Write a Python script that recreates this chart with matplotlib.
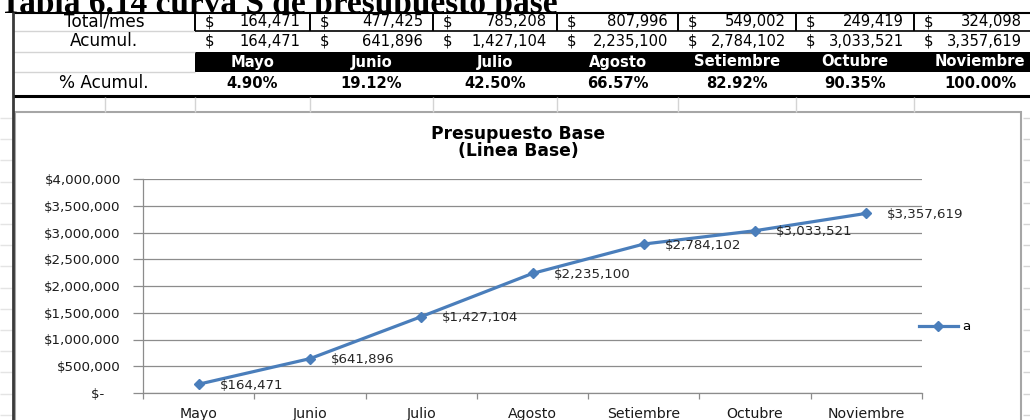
import numpy as np
import matplotlib
matplotlib.use("Agg")
import matplotlib.pyplot as plt
from matplotlib.lines import Line2D
from matplotlib.patches import Rectangle
from matplotlib.ticker import FuncFormatter, FixedLocator

# datos de la tabla 6.14
meses = ['Mayo', 'Junio', 'Julio', 'Agosto', 'Setiembre', 'Octubre', 'Noviembre']
total_mes = [164471, 477425, 785208, 807996, 549002, 249419, 324098]
acumulado = [164471, 641896, 1427104, 2235100, 2784102, 3033521, 3357619]
pct_acumulado = [4.90, 19.12, 42.50, 66.57, 82.92, 90.35, 100.00]
serie = 'a'

W, H = 1030, 420
fig = plt.figure(figsize=(W / 100, H / 100), dpi=100)
fig.patch.set_facecolor('white')


def fx(x):
    return x / W


def fy(y):
    return 1 - y / H


def hline(y, x0, x1, color='black', lw=1.0, z=2):
    fig.add_artist(Line2D([fx(x0), fx(x1)], [fy(y), fy(y)], transform=fig.transFigure,
                          color=color, lw=lw, zorder=z, solid_capstyle='butt'))


def vline(x, y0, y1, color='black', lw=1.0, z=2):
    fig.add_artist(Line2D([fx(x), fx(x)], [fy(y0), fy(y1)], transform=fig.transFigure,
                          color=color, lw=lw, zorder=z, solid_capstyle='butt'))


LIGHT = '#d4d4d4'

# ---- titulo de la tabla (la tabla tapa los descendentes) ----
fig.text(fx(0), fy(13), 'Tabla 6.14 curva S de presupuesto base', family='Liberation Serif',
         weight='bold', fontsize=24, ha='left', va='baseline', zorder=0.3)

# ---- tabla ----
col_edges = [195, 310, 433, 557, 678, 796, 914, 1040]
label_cx = 104

fig.add_artist(Rectangle((fx(13), fy(96)), fx(1040) - fx(13), fy(13) - fy(96),
                         transform=fig.transFigure, facecolor='white', edgecolor='none', zorder=0.5))
# fondo negro de la fila de meses
fig.add_artist(Rectangle((fx(195), fy(72)), fx(1040) - fx(195), fy(52) - fy(72),
                         transform=fig.transFigure, facecolor='black', edgecolor='none', zorder=1))

hline(13, 13, 1030, lw=1.5)
hline(31, 13, 195, color=LIGHT)
hline(31, 195, 1030, lw=1.2)
hline(52, 13, 195, color=LIGHT)
hline(72, 13, 195, color=LIGHT)
hline(95.5, 13, 1030, lw=2.2)
for x in col_edges[:-1]:
    vline(x, 13, 31, lw=1.4)
vline(13, 12, 420, color='#3a3a3a', lw=2.0, z=3)

# cuadricula de la hoja bajo la tabla
for x in [105] + col_edges[:-1]:
    vline(x, 97, 112, color=LIGHT)
for k in range(15):
    y = 118 + 21.2 * k
    hline(y, 1023, 1030, color=LIGHT)
    hline(y, 0, 12, color='#e4e4e4')

fs_val = 10.6
fig.text(fx(label_cx), fy(22), 'Total/mes', family='DejaVu Sans', fontsize=12.2, ha='center', va='center')
fig.text(fx(label_cx), fy(41.5), 'Acumul.', family='DejaVu Sans', fontsize=12.2, ha='center', va='center')
fig.text(fx(label_cx), fy(83), '% Acumul.', family='DejaVu Sans', fontsize=12.2, ha='center', va='center')

for i in range(len(meses)):
    left, right = col_edges[i], min(col_edges[i + 1], 1032)
    cx = (col_edges[i] + col_edges[i + 1]) / 2 if i < 6 else 980
    fig.text(fx(left + 10), fy(22), '$', family='DejaVu Sans', fontsize=fs_val, ha='left', va='center')
    fig.text(fx(right - 10), fy(22), f'{total_mes[i]:,}', family='DejaVu Sans', fontsize=fs_val,
             ha='right', va='center')
    fig.text(fx(left + 10), fy(41.5), '$', family='DejaVu Sans', fontsize=fs_val, ha='left', va='center')
    fig.text(fx(right - 10), fy(41.5), f'{acumulado[i]:,}', family='DejaVu Sans', fontsize=fs_val,
             ha='right', va='center')
    fig.text(fx(cx), fy(62), meses[i], family='DejaVu Sans', weight='bold', fontsize=fs_val,
             color='white', ha='center', va='center')
    fig.text(fx(cx), fy(83), f'{pct_acumulado[i]:.2f}%', family='DejaVu Sans', weight='bold',
             fontsize=fs_val, ha='center', va='center')

# ---- marco del grafico ----
fig.add_artist(Rectangle((fx(15), fy(425)), fx(1021) - fx(15), fy(112) - fy(425),
                         transform=fig.transFigure, facecolor='white', edgecolor='#a6a6a6',
                         lw=1.5, zorder=-1))

fig.text(fx(518), fy(134), 'Presupuesto Base', family='DejaVu Sans', weight='bold',
         fontsize=12.3, ha='center', va='center')
fig.text(fx(518), fy(151), '(Linea Base)', family='DejaVu Sans', weight='bold',
         fontsize=12.3, ha='center', va='center')

# ---- curva S ----
ax = fig.add_axes([fx(143), fy(393), fx(922) - fx(143), fy(179) - fy(393)])
ax.set_facecolor('none')
x = np.arange(len(meses))
azul = '#4A7EBB'
ax.plot(x, acumulado, color=azul, lw=2.3, marker='D', markersize=5.5, label=serie, zorder=3)
for xi, v in zip(x, acumulado):
    ax.annotate(f'${v:,}', (xi, v), xytext=(21, -1), textcoords='offset pixels',
                ha='left', va='center', fontsize=9.6, family='DejaVu Sans', color='#262626')

ax.set_xlim(-0.5, len(meses) - 0.5)
ax.set_ylim(0, 4000000)
ax.set_yticks(np.arange(0, 4000001, 500000))
ax.yaxis.set_major_formatter(FuncFormatter(lambda v, p: '$-    ' if v == 0 else f'${v:,.0f}'))
ax.grid(axis='y', color='#8c8c8c', lw=0.9)
ax.set_axisbelow(True)

ax.set_xticks(x)
ax.set_xticklabels(meses)
ax.xaxis.set_minor_locator(FixedLocator(np.arange(-0.5, len(meses), 1.0)))
ax.tick_params(axis='x', which='major', length=0, pad=10, labelsize=10.2, labelcolor='#1a1a1a')
ax.tick_params(axis='x', which='minor', length=4, color='#8c8c8c', width=0.9)
ax.tick_params(axis='y', length=7, color='#8c8c8c', width=0.9, pad=9, labelsize=9.6,
               labelcolor='#1a1a1a')
for lab in ax.get_xticklabels() + ax.get_yticklabels():
    lab.set_family('DejaVu Sans')

for s in ['top', 'right']:
    ax.spines[s].set_visible(False)
for s in ['left', 'bottom']:
    ax.spines[s].set_color('#8c8c8c')
    ax.spines[s].set_linewidth(0.9)

fig.legend(loc='center left', bbox_to_anchor=(fx(919), fy(327)), frameon=False, borderpad=0,
           borderaxespad=0, handlelength=2.9, handletextpad=0.35, prop={'family': 'DejaVu Sans', 'size': 9.6})

fig.savefig('out.png', dpi=100)
